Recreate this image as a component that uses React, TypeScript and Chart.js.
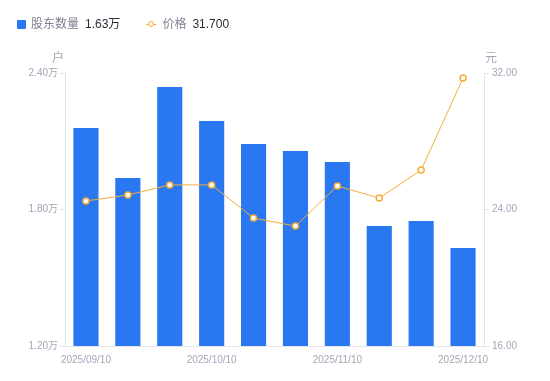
import React, { useEffect, useRef } from "react";
import { Chart, registerables } from "chart.js";

Chart.register(...registerables);

const categories = [
  "2025/09/10", "2025/09/20", "2025/09/30", "2025/10/10", "2025/10/20",
  "2025/10/31", "2025/11/10", "2025/11/20", "2025/11/30", "2025/12/10",
];
const holders = [2.158, 1.938, 2.338, 2.189, 2.088, 2.057, 2.009, 1.727, 1.749, 1.631];
const prices = [24.5, 24.85, 25.44, 25.44, 23.5, 23.03, 25.38, 24.67, 26.31, 31.7];
const leftTicks = [1.2, 1.8, 2.4];
const rightTicks = [16, 24, 32];

const FONT = '"Liberation Sans", Arial, "Noto Sans CJK SC", sans-serif';
const BLUE = "#2a77f2";
const ORANGE = "#f5ad38";
const TICK = "#a3a6b7";
const AXIS = "#e3e4ea";

const unitPlugin = {
  id: "units",
  afterDraw(chart: any) {
    const ctx = chart.ctx;
    const area = chart.chartArea;
    ctx.save();
    ctx.font = `12px ${FONT}`;
    ctx.fillStyle = TICK;
    ctx.textBaseline = "middle";
    ctx.textAlign = "center";
    ctx.fillText("户", area.left - 7, area.top - 14);
    ctx.textAlign = "left";
    ctx.fillText("元", area.right + 1, area.top - 14);
    ctx.restore();
  },
};

export default function App() {
  const ref = useRef<HTMLCanvasElement>(null);
  useEffect(() => {
    const chart = new Chart(ref.current!, {
      type: "bar",
      data: {
        labels: categories,
        datasets: [
          {
            type: "bar",
            label: "股东数量",
            data: holders,
            backgroundColor: BLUE,
            yAxisID: "y",
            categoryPercentage: 1,
            barPercentage: 0.6,
            order: 2,
          },
          {
            type: "line",
            label: "价格",
            data: prices,
            borderColor: ORANGE,
            borderWidth: 1,
            pointBackgroundColor: "#ffffff",
            pointBorderColor: ORANGE,
            pointBorderWidth: 1.5,
            pointRadius: 3,
            yAxisID: "y1",
            order: 1,
          } as any,
        ],
      },
      options: {
        animation: false,
        responsive: true,
        maintainAspectRatio: false,
        layout: { padding: { top: 73, left: 0, right: 0, bottom: 0 } },
        plugins: { legend: { display: false }, tooltip: { enabled: false } },
        scales: {
          x: {
            grid: { display: false },
            border: { color: AXIS },
            ticks: {
              autoSkip: false,
              maxRotation: 0,
              color: TICK,
              font: { size: 10, family: FONT },
              padding: 0,
              callback: (_v: any, i: number) => (i % 3 === 0 ? categories[i] : ""),
            },
            afterFit: (s: any) => { s.height = 35; },
          },
          y: {
            position: "left",
            min: 1.2,
            max: 2.4,
            afterBuildTicks: (s: any) => { s.ticks = leftTicks.map((v) => ({ value: v })); },
            grid: { drawOnChartArea: false, drawTicks: true, tickLength: 5, color: AXIS },
            border: { color: AXIS },
            ticks: {
              color: TICK,
              font: { size: 10, family: FONT },
              padding: 2,
              callback: (v: any) => Number(v).toFixed(2) + "万",
            },
            afterFit: (s: any) => { s.width = 65; },
          },
          y1: {
            position: "right",
            min: 16,
            max: 32,
            afterBuildTicks: (s: any) => { s.ticks = rightTicks.map((v) => ({ value: v })); },
            grid: { drawOnChartArea: false, drawTicks: true, tickLength: 5, color: AXIS },
            border: { color: AXIS },
            ticks: {
              color: TICK,
              font: { size: 10, family: FONT },
              padding: 3,
              callback: (v: any) => Number(v).toFixed(2),
            },
            afterFit: (s: any) => { s.width = 66; },
          },
        },
      } as any,
      plugins: [unitPlugin],
    });
    return () => chart.destroy();
  }, []);

  return (
    <div style={{ position: "fixed", left: 0, top: 0, width: 550, height: 381, background: "#fff", fontFamily: FONT }}>
      <canvas ref={ref} style={{ position: "absolute", left: 0, top: 0 }} width={550} height={381} />
      <div style={{ position: "absolute", left: 17, top: 15, display: "flex", alignItems: "center", fontSize: 12, lineHeight: "18px", whiteSpace: "nowrap" }}>
        <span style={{ display: "inline-block", width: 9, height: 9, background: BLUE, borderRadius: 1, marginRight: 5 }} />
        <span style={{ color: "#7d8092" }}>{"股东数量"}</span>
        <span style={{ color: "#2b2d38", marginLeft: 6 }}>{holders[holders.length - 1].toFixed(2) + "万"}</span>
        <span style={{ display: "inline-block", position: "relative", width: 10, height: 9, marginLeft: 26, marginRight: 6 }}>
          <span style={{ position: "absolute", left: 0, top: 4, width: 10, height: 1, background: ORANGE }} />
          <span style={{ position: "absolute", left: 2, top: 1.5, width: 4, height: 4, border: `1.5px solid ${ORANGE}`, borderRadius: "50%", background: "#fff" }} />
        </span>
        <span style={{ color: "#7d8092" }}>{"价格"}</span>
        <span style={{ color: "#2b2d38", marginLeft: 6 }}>{prices[prices.length - 1].toFixed(3)}</span>
      </div>
    </div>
  );
}
